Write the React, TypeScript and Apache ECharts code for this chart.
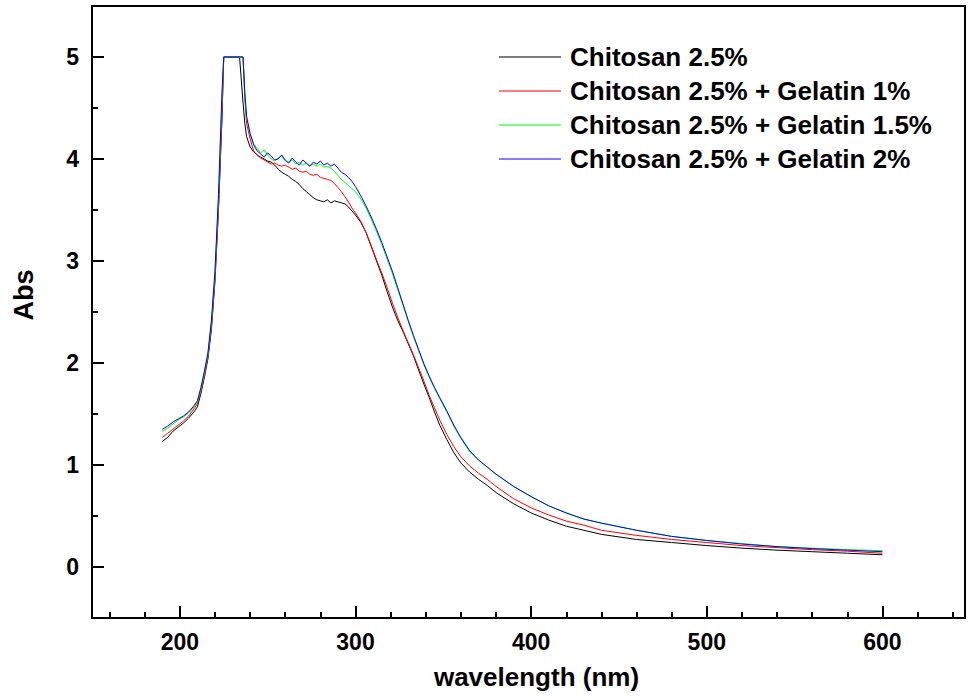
import React, { useEffect, useRef } from "react";
import * as echarts from "echarts";

const wavelengths = [190,193,196,199,202,205,208,210,212,214,216,218,220,222,224,225,230,234,236,237,238,240,242,244,246,248,250,252,254,256,258,260,262,264,266,268,270,272,274,276,278,280,282,284,286,288,290,292,294,296,298,300,303,306,309,312,315,318,321,324,327,330,333,336,339,342,345,348,352,356,360,365,370,375,380,390,400,410,420,430,440,460,480,500,520,540,560,580,600];

const chitosan = [1.23,1.27,1.33,1.37,1.41,1.46,1.52,1.57,1.70,1.86,2.04,2.33,2.80,3.50,4.40,5.00,5.00,5.00,
  4.55,4.35,4.22,4.12,4.07,4.04,4.02,4.00,3.98,3.97,3.94,3.90,3.87,3.85,3.83,3.80,3.78,3.75,3.71,3.68,3.65,3.62,3.60,3.59,3.58,3.60,3.57,3.59,3.58,3.57,3.56,3.53,3.49,3.45,
  3.38,3.28,3.14,3.00,2.86,2.70,2.55,2.42,2.31,2.19,2.07,1.93,1.79,1.66,1.52,1.39,1.25,1.12,1.02,0.93,0.86,0.80,0.73,
  0.62,0.53,0.46,0.40,0.36,0.32,0.27,0.24,0.21,0.185,0.165,0.15,0.135,0.12];

const gelatin1 = [1.27,1.31,1.35,1.39,1.43,1.48,1.55,1.60,1.72,1.88,2.06,2.36,2.82,3.52,4.42,5.00,5.00,5.00,
  5.00,4.60,4.35,4.20,4.08,4.04,4.01,3.99,3.97,3.95,3.96,3.94,3.93,3.94,3.92,3.90,3.91,3.88,3.87,3.88,3.85,3.84,3.85,3.82,3.81,3.80,3.79,3.76,3.72,3.68,3.63,3.58,3.52,3.47,
  3.39,3.28,3.15,3.01,2.88,2.74,2.59,2.45,2.32,2.20,2.08,1.95,1.82,1.68,1.56,1.44,1.30,1.18,1.08,0.99,0.92,0.86,0.79,
  0.67,0.58,0.51,0.45,0.41,0.36,0.31,0.27,0.24,0.21,0.19,0.17,0.155,0.135];

const gelatin15 = [1.33,1.36,1.40,1.44,1.47,1.51,1.57,1.62,1.74,1.90,2.08,2.40,2.87,3.60,4.60,5.00,5.00,5.00,
  5.00,4.62,4.40,4.25,4.15,4.10,4.06,4.09,4.04,4.00,3.98,4.01,4.03,3.98,3.97,3.99,3.95,3.97,3.94,3.96,3.93,3.95,3.93,3.95,3.92,3.93,3.91,3.88,3.84,3.80,3.77,3.74,3.71,3.68,
  3.61,3.52,3.41,3.29,3.16,3.02,2.88,2.72,2.57,2.41,2.26,2.12,1.98,1.86,1.75,1.65,1.52,1.38,1.26,1.13,1.05,0.98,0.91,
  0.79,0.69,0.60,0.53,0.47,0.43,0.36,0.30,0.26,0.23,0.20,0.185,0.17,0.16];

const gelatin2 = [1.35,1.38,1.42,1.45,1.48,1.52,1.58,1.63,1.76,1.92,2.10,2.42,2.90,3.65,4.65,5.00,5.00,5.00,
  5.00,4.65,4.42,4.25,4.14,4.08,4.05,4.02,4.06,4.03,3.99,4.00,4.04,3.99,3.96,4.01,3.97,3.94,3.99,3.96,3.93,3.97,3.95,3.98,3.94,3.96,3.93,3.95,3.91,3.87,3.85,3.82,3.78,3.73,
  3.64,3.54,3.43,3.31,3.18,3.04,2.90,2.74,2.58,2.42,2.27,2.13,1.99,1.87,1.76,1.66,1.53,1.39,1.27,1.14,1.05,0.98,0.91,
  0.79,0.69,0.60,0.53,0.47,0.43,0.36,0.30,0.26,0.225,0.20,0.18,0.165,0.15];

const seriesNames = [
  "Chitosan 2.5%",
  "Chitosan 2.5% + Gelatin 1%",
  "Chitosan 2.5% + Gelatin 1.5%",
  "Chitosan 2.5% + Gelatin 2%",
];
const seriesColors = ["#000000", "#ff0000", "#00ff00", "#0000ff"];
const seriesValues = [chitosan, gelatin1, gelatin15, gelatin2];

const xMajorTicks = [200, 300, 400, 500, 600];
const xMinorTicks = [160, 180, 220, 240, 260, 280, 320, 340, 360, 380, 420, 440, 460, 480, 520, 540, 560, 580, 620, 640];
const yMajorTicks = [0, 1, 2, 3, 4, 5];
const yMinorTicks = [0.5, 1.5, 2.5, 3.5, 4.5];

const FONT = '"Liberation Sans", Arial, sans-serif';

export default function App() {
  const ref = useRef<HTMLDivElement>(null);
  useEffect(() => {
    if (!ref.current) return;
    const chart = echarts.init(ref.current, null, { renderer: "svg" });
    const labelStyle = { fontFamily: FONT, fontWeight: "bold" as const, color: "#000" };
    const tickStyle = { color: "#000", width: 2 };
    chart.setOption({
      animation: false,
      grid: {
        left: 92,
        right: 6,
        top: 6,
        bottom: 79,
        show: true,
        borderColor: "#000",
        borderWidth: 2,
        backgroundColor: "transparent",
      },
      legend: {
        data: seriesNames,
        orient: "vertical",
        left: 494,
        top: 39,
        icon: "rect",
        itemWidth: 62,
        itemHeight: 1,
        itemGap: 8,
        textStyle: { ...labelStyle, fontSize: 26, lineHeight: 26, padding: [0, 0, 0, 4] },
      },
      xAxis: [
        {
          type: "value",
          min: 150,
          max: 647,
          position: "bottom",
          name: "wavelength (nm)",
          nameLocation: "middle",
          nameGap: 46,
          nameTextStyle: { ...labelStyle, fontSize: 26, padding: [0, 0, 0, 16] },
          axisLine: { show: false, onZero: false },
          axisTick: { show: true, inside: true, length: 12, lineStyle: tickStyle, customValues: xMajorTicks },
          axisLabel: { ...labelStyle, fontSize: 23, margin: 12, customValues: xMajorTicks },
          splitLine: { show: false },
        },
        {
          type: "value",
          min: 150,
          max: 647,
          position: "bottom",
          axisLine: { show: false, onZero: false },
          axisTick: { show: true, inside: true, length: 6, lineStyle: tickStyle, customValues: xMinorTicks },
          axisLabel: { show: false },
          splitLine: { show: false },
        },
      ],
      yAxis: [
        {
          type: "value",
          min: -0.5,
          max: 5.5,
          position: "left",
          name: "Abs",
          nameLocation: "middle",
          nameGap: 55,
          nameTextStyle: { ...labelStyle, fontSize: 27, padding: [0, 0, 0, 34] },
          axisLine: { show: false, onZero: false },
          axisTick: { show: true, inside: true, length: 12, lineStyle: tickStyle, customValues: yMajorTicks },
          axisLabel: { ...labelStyle, fontSize: 23, margin: 13, customValues: yMajorTicks },
          splitLine: { show: false },
        },
        {
          type: "value",
          min: -0.5,
          max: 5.5,
          position: "left",
          axisLine: { show: false, onZero: false },
          axisTick: { show: true, inside: true, length: 6, lineStyle: tickStyle, customValues: yMinorTicks },
          axisLabel: { show: false },
          splitLine: { show: false },
        },
      ],
      series: seriesNames.map((name, si) => ({
        name,
        type: "line",
        xAxisIndex: 0,
        yAxisIndex: 0,
        showSymbol: false,
        symbol: "none",
        color: seriesColors[si],
        lineStyle: { color: seriesColors[si], width: 1 },
        data: wavelengths.map((w, i) => [w, seriesValues[si][i]]),
        z: 2 + si,
      })),
    });
    return () => chart.dispose();
  }, []);
  return (
    <div
      ref={ref}
      style={{ position: "fixed", left: 0, top: 0, width: 971, height: 697, background: "#fff" }}
    />
  );
}
